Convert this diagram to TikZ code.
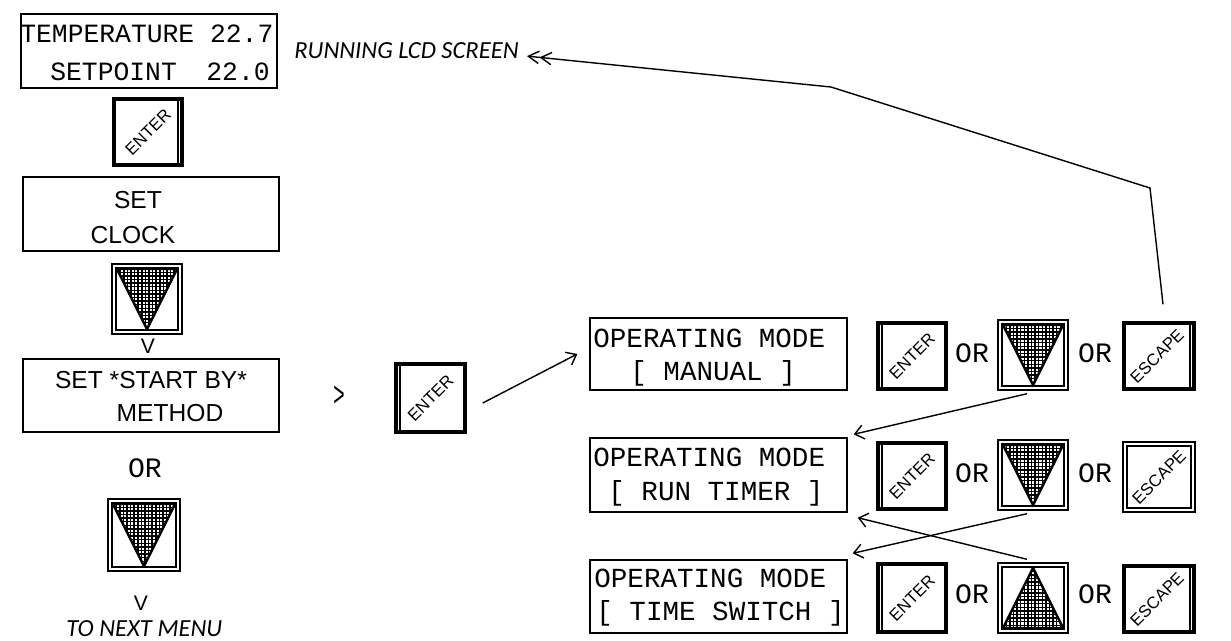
\documentclass[tikz,border=0pt]{standalone}
\usepackage{fontspec}
\setmainfont{Liberation Sans}
\newfontfamily\lcdfont{Liberation Mono}
\newfontfamily\notefont{Carlito}
\usetikzlibrary{arrows.meta,calc,fit}
\tikzset{
  lcdbox/.style={draw, line width=0.8pt, inner sep=0pt},
  lcdA/.style={font=\lcdfont\fontsize{15}{16}\selectfont, inner sep=0pt, anchor=base west},
  lcdB/.style={font=\lcdfont\fontsize{15.7}{16}\selectfont, inner sep=0pt, anchor=base west},
  ortxt/.style={font=\lcdfont\fontsize{16}{16}\selectfont, inner sep=0pt, anchor=base},
  sanstxt/.style={font=\fontsize{14}{16}\selectfont, inner sep=0pt, anchor=base},
  notetxt/.style={font=\notefont\itshape\fontsize{14}{16}\selectfont, inner sep=0pt, anchor=base west},
  vtxt/.style={font=\fontsize{12}{14}\selectfont, inner sep=0pt, anchor=base},
  keylbl/.style={font=\fontsize{9.5}{10}\selectfont, rotate=45, inner sep=0pt},
  keybtn/.style={draw, line width=0.8pt, inner sep=0pt},
  dblleft/.style={path picture={
      \draw[line width=3.4pt] (path picture bounding box.north west) rectangle (path picture bounding box.south east);
      \draw[line width=0.9pt]
      ($(path picture bounding box.north west)+(5,0)$) -- ($(path picture bounding box.south west)+(5,0)$);}},
  dblright/.style={path picture={
      \draw[line width=3.4pt] (path picture bounding box.north west) rectangle (path picture bounding box.south east);
      \draw[line width=0.9pt]
      ($(path picture bounding box.north east)+(-5,0)$) -- ($(path picture bounding box.south east)+(-5,0)$);}},
  dblall/.style={draw, line width=0.8pt, inner sep=0pt, path picture={\draw[line width=0.9pt]
      ($(path picture bounding box.north west)+(4,4)$) rectangle ($(path picture bounding box.south east)+(-4,-4)$);}},
  dnbtn/.style={draw, line width=0.8pt, inner sep=0pt, path picture={
      \coordinate (pnw) at (path picture bounding box.north west);
      \coordinate (pne) at (path picture bounding box.north east);
      \coordinate (ps) at (path picture bounding box.south);
      \coordinate (pse) at (path picture bounding box.south east);
      \draw[line width=0.8pt] ($(pnw)+(4,4)$) rectangle ($(pse)+(-4,-4)$);
      \begin{scope}
        \clip ($(pnw)+(5,5)$) -- ($(pne)+(-5,5)$) -- ($(ps)+(0,-5)$) -- cycle;
        \foreach \k in {0,...,22} {
          \draw[line width=0.8pt] ($(pnw)+(3.6*\k+1,0)$) -- ++(0,80);
          \draw[line width=0.8pt] ($(pnw)+(0,3.6*\k+1)$) -- ++(80,0);
        }
      \end{scope}
      \draw[line width=1.4pt, line join=round] ($(pnw)+(5,5)$) -- ($(pne)+(-5,5)$) -- ($(ps)+(0,-5)$) -- cycle;
  }},
  upbtn/.style={draw, line width=0.8pt, inner sep=0pt, path picture={
      \coordinate (pnw) at (path picture bounding box.north west);
      \coordinate (pn) at (path picture bounding box.north);
      \coordinate (psw) at (path picture bounding box.south west);
      \coordinate (pse) at (path picture bounding box.south east);
      \draw[line width=0.8pt] ($(pnw)+(4,4)$) rectangle ($(pse)+(-4,-4)$);
      \begin{scope}
        \clip ($(psw)+(5,-5)$) -- ($(pse)+(-5,-5)$) -- ($(pn)+(0,5)$) -- cycle;
        \foreach \k in {0,...,22} {
          \draw[line width=0.8pt] ($(pnw)+(3.6*\k+1,0)$) -- ++(0,80);
          \draw[line width=0.8pt] ($(pnw)+(0,3.6*\k+1)$) -- ++(80,0);
        }
      \end{scope}
      \draw[line width=1.4pt, line join=round] ($(psw)+(5,-5)$) -- ($(pse)+(-5,-5)$) -- ($(pn)+(0,5)$) -- cycle;
  }},
  conn/.style={line width=0.8pt, -{Straight Barb[length=5pt,width=8pt]}},
  escconn/.style={line width=0.8pt, -{Straight Barb[length=6pt,width=7pt] Straight Barb[length=6pt,width=7pt]}}
}
\begin{document}
\begin{tikzpicture}[x=0.02cm,y=-0.02cm]
\useasboundingbox (0,0) rectangle (1231,640);

% ---------- left column ----------
\node[lcdbox, fit={(21,14)(277,88)}] (lcd) {};
\node[lcdA] (lcdl1) at (20,42) {TEMPERATURE 22.7};
\node[lcdA] (lcdl2) at (50,80) {SETPOINT};
\node[lcdA, anchor=base east] (lcdl2b) at (270,80) {22.0};

\node[keybtn, dblright, fit={(113,98)(183,166)}] (e1) {};
\node[keylbl] (e1t) at (e1) {ENTER};

\node[lcdbox, fit={(23,177)(279,251)}] (clk) {};
\node[sanstxt] (clk1) at (138,208) {SET};
\node[sanstxt] (clk2) at (133,243) {CLOCK};

\node[dnbtn, fit={(112,264)(182,334)}] (dA) {};
\node[vtxt] (vA) at (148,353) {V};

\node[lcdbox, fit={(23,359)(279,432)}] (sb) {};
\node[sanstxt] (sb1) at (151,388) {SET *START BY*};
\node[sanstxt] (sb2) at (170,421) {METHOD};

\node[ortxt] (orA) at (145,477) {OR};
\node[dnbtn, fit={(108,499)(180,571)}] (dB) {};
\node[vtxt] (vB) at (141,610) {V};
\node[notetxt] (nxt) at (66,636) {TO NEXT MENU};

% ---------- middle ----------
\node[font=\fontsize{20}{20}\selectfont, xscale=0.55, inner sep=0pt] (gt) at (339,396) {>};
\node[keybtn, dblleft, fit={(395,363)(466,433)}] (e2) {};
\node[keylbl] (e2t) at (e2) {ENTER};

\node[notetxt] (rl) at (294,58) {RUNNING LCD SCREEN};

% ---------- operating modes ----------
\node[lcdbox, fit={(590,318)(847,390)}] (m1) {};
\node[lcdB] (m1a) at (593,347) {OPERATING MODE};
\node[lcdB] (m1b) at (630,380) {[ MANUAL ]};

\node[lcdbox, fit={(590,438)(847,512)}] (m2) {};
\node[lcdB] (m2a) at (593,466) {OPERATING MODE};
\node[lcdB] (m2b) at (608,500) {[ RUN TIMER ]};

\node[lcdbox, fit={(590,560)(847,633)}] (m3) {};
\node[lcdB] (m3a) at (594,587) {OPERATING MODE};
\node[lcdB] (m3b) at (596,620) {[ TIME SWITCH ]};

% enter keys
\node[keybtn, dblleft, fit={(877,322)(947,390)}] (k1) {};
\node[keylbl] at (k1) {ENTER};
\node[keybtn, dblleft, fit={(877,442)(947,510)}] (k2) {};
\node[keylbl] at (k2) {ENTER};
\node[keybtn, dblleft, fit={(877,563)(947,633)}] (k3) {};
\node[keylbl] at (k3) {ENTER};

% OR labels
\node[ortxt] (o11) at (972,362) {OR};
\node[ortxt] (o12) at (1095,362) {OR};
\node[ortxt] (o21) at (972,482) {OR};
\node[ortxt] (o22) at (1095,482) {OR};
\node[ortxt] (o31) at (972,603) {OR};
\node[ortxt] (o32) at (1095,603) {OR};

% arrow keys
\node[dnbtn, fit={(998,320)(1068,390)}] (d1) {};
\node[dnbtn, fit={(998,440)(1068,510)}] (d2) {};
\node[upbtn, fit={(998,563)(1068,633)}] (u3) {};

% escape keys
\node[keybtn, dblright, fit={(1123,322)(1195,390)}] (x1) {};
\node[keylbl] at ($(x1)+(-2,0)$) {ESCAPE};
\node[dblall, fit={(1123,442)(1195,512)}] (x2) {};
\node[keylbl] at (x2) {ESCAPE};
\node[keybtn, dblright, fit={(1123,565)(1195,633)}] (x3) {};
\node[keylbl] at ($(x3)+(-2,0)$) {ESCAPE};

% ---------- connectors ----------
\draw[conn] ($(e2.east)+(16,5)$) -- ($(m1.west)+(-12,0)$);
\draw[conn] ($(d1.south)+(-6,3)$) -- ($(m2.north east)+(6,-3)$);
\draw[conn] ($(d2.south)+(-6,3)$) -- ($(m3.north east)+(5,-6)$);
\draw[conn] ($(u3.north)+(-6,-3)$) -- ($(m2.south east)+(10,5)$);

\coordinate (bendA) at (1150,188);
\coordinate (bendB) at (831,87);
\draw[escconn] ($(x1.north)+(4,-17)$) -- (bendA) -- (bendB) -- ($(rl.east)+(8,6)$);
\end{tikzpicture}
\end{document}
